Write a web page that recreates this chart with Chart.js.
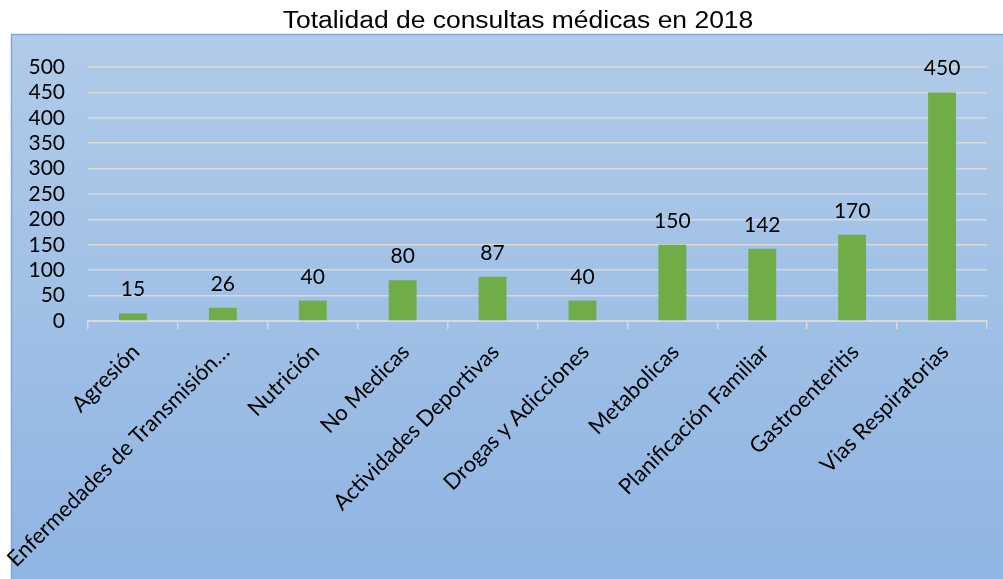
<!DOCTYPE html>
<html lang="es">
<head>
    <meta charset="UTF-8">
    <title>Totalidad de consultas médicas en 2018</title>
    <script src="https://cdn.jsdelivr.net/npm/chart.js"></script>
    <style>
        html, body { margin: 0; padding: 0; background: #fff; }
        #wrap { width: 1003px; height: 579px; }
    </style>
</head>
<body>
    <div id="wrap">
        <canvas id="consultasChart" width="1003" height="579"></canvas>
    </div>

    <script>
        // Datos del gráfico
        const titulo = 'Totalidad de consultas médicas en 2018';
        const categorias = [
            'Agresión',
            'Enfermedades de Transmisión…',
            'Nutrición',
            'No Medicas',
            'Actividades Deportivas',
            'Drogas y Adicciones',
            'Metabolicas',
            'Planificación Familiar',
            'Gastroenteritis',
            'Vias Respiratorias'
        ];
        const consultas = [15, 26, 40, 80, 87, 40, 150, 142, 170, 450];
        const ticksY = [0, 50, 100, 150, 200, 250, 300, 350, 400, 450, 500];

        // Fondo azul degradado detrás del gráfico
        const fondoPlugin = {
            id: 'fondo',
            beforeDraw(chart) {
                const ctx = chart.ctx;
                const g = ctx.createLinearGradient(0, 34, 0, 579);
                g.addColorStop(0, '#b1cbe9');
                g.addColorStop(1, '#8fb5e2');
                ctx.save();
                ctx.fillStyle = g;
                ctx.fillRect(11, 34, 992, 545);
                ctx.strokeStyle = '#7ea6d8';
                ctx.lineWidth = 1.5;
                ctx.beginPath();
                ctx.moveTo(11.5, 579);
                ctx.lineTo(11.5, 34.5);
                ctx.lineTo(1003, 34.5);
                ctx.stroke();
                ctx.restore();
            }
        };

        // Título (algo ensanchado, como en el original)
        const tituloPlugin = {
            id: 'tituloAncho',
            afterDraw(chart) {
                const ctx = chart.ctx;
                ctx.save();
                ctx.translate(518, 28);
                ctx.scale(1.15, 1);
                ctx.font = '23px "Liberation Sans"';
                ctx.fillStyle = '#000';
                ctx.textAlign = 'center';
                ctx.textBaseline = 'alphabetic';
                ctx.fillText(titulo, 0, 0);
                ctx.restore();
            }
        };

        // Etiquetas de valor encima de cada barra
        const etiquetasPlugin = {
            id: 'etiquetas',
            afterDatasetsDraw(chart) {
                const ctx = chart.ctx;
                const meta = chart.getDatasetMeta(0);
                ctx.save();
                ctx.font = '21px Lato';
                ctx.fillStyle = '#000';
                ctx.textAlign = 'center';
                ctx.textBaseline = 'alphabetic';
                meta.data.forEach((bar, i) => {
                    ctx.fillText(String(consultas[i]), bar.x, bar.y - 17);
                });
                ctx.restore();
            }
        };

        const ctx = document.getElementById('consultasChart').getContext('2d');
        new Chart(ctx, {
            type: 'bar',
            data: {
                labels: categorias,
                datasets: [{
                    label: 'Consultas',
                    data: consultas,
                    backgroundColor: '#70ad47',
                    borderWidth: 0,
                    barPercentage: 0.31,
                    categoryPercentage: 1
                }]
            },
            options: {
                responsive: false,
                animation: false,
                layout: {
                    padding: { left: 12, right: 16, top: 67, bottom: 0 }
                },
                plugins: {
                    legend: { display: false },
                    tooltip: { enabled: false },
                    title: { display: false }
                },
                scales: {
                    x: {
                        grid: {
                            offset: true,
                            drawOnChartArea: false,
                            drawTicks: true,
                            tickLength: 8,
                            color: '#d9d9d9',
                            lineWidth: 1.5
                        },
                        border: { color: '#d9d9d9', width: 2 },
                        ticks: {
                            color: '#000',
                            font: { family: 'Lato', size: 22 },
                            minRotation: 45,
                            maxRotation: 45,
                            autoSkip: false,
                            padding: 10,
                            labelOffset: 3
                        },
                        afterFit(scale) { scale.height = 258; }
                    },
                    y: {
                        min: 0,
                        max: 500,
                        grid: { color: '#d9d9d9', lineWidth: 1.5, drawTicks: false },
                        border: { display: false },
                        ticks: {
                            color: '#000',
                            font: { family: 'Lato', size: 21 },
                            padding: 23,
                            autoSkip: false
                        },
                        afterBuildTicks(scale) {
                            scale.ticks = ticksY.map(v => ({ value: v }));
                        },
                        afterFit(scale) { scale.width = 76; }
                    }
                }
            },
            plugins: [fondoPlugin, tituloPlugin, etiquetasPlugin]
        });
    </script>
</body>
</html>
